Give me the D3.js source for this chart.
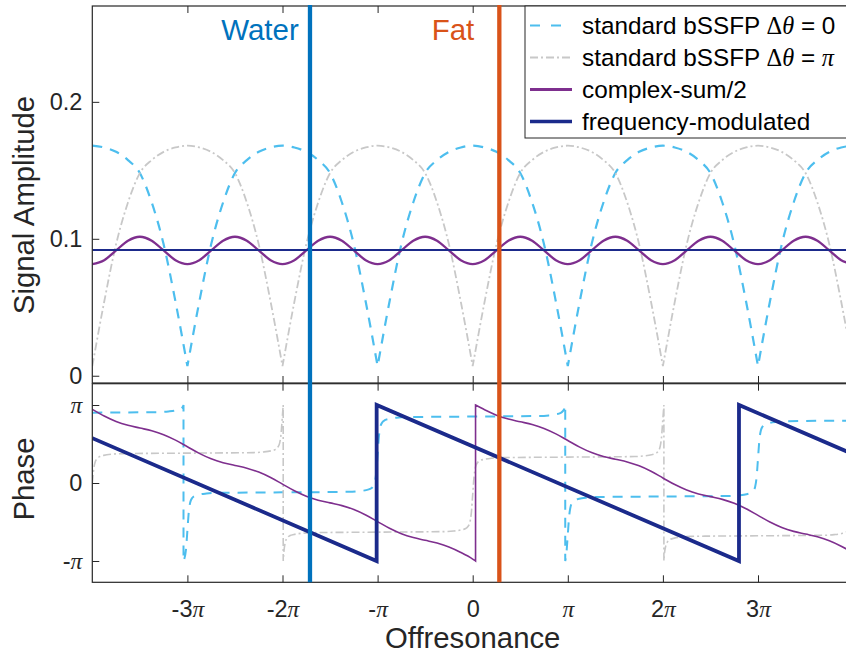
<!DOCTYPE html>
<html><head><meta charset="utf-8">
<script src="https://cdn.jsdelivr.net/npm/d3@7/dist/d3.min.js"></script>
<style>
html,body{margin:0;padding:0;background:#fff;overflow:hidden;}
svg{display:block;font-family:"Liberation Sans",Arial,Helvetica,sans-serif;}
</style></head><body>
<svg id="chart" width="846" height="655"></svg>
<script>
// ---------------- DATA (offresonance and phase in units of pi) ----------------
const offres = [-4,-3.875,-3.75,-3.625,-3.5,-3.375,-3.25,-3.125,-3,-2.875,-2.75,-2.625,-2.5,-2.375,-2.25,-2.125,
  -2,-1.875,-1.75,-1.625,-1.5,-1.375,-1.25,-1.125,-1,-0.875,-0.75,-0.625,-0.5,-0.375,-0.25,-0.125,
  0,0.125,0.25,0.375,0.5,0.625,0.75,0.875,1,1.125,1.25,1.375,1.5,1.625,1.75,1.875,
  2,2.125,2.25,2.375,2.5,2.625,2.75,2.875,3,3.125,3.25,3.375,3.5,3.625,3.75,3.875,4];

const ampBssfp0 = [0.168,0.1667,0.1635,0.1575,0.148,0.1265,0.096,0.054,0.007,0.054,0.096,0.1265,0.148,0.1575,0.1635,0.1667,
  0.168,0.1667,0.1635,0.1575,0.148,0.1265,0.096,0.054,0.007,0.054,0.096,0.1265,0.148,0.1575,0.1635,0.1667,
  0.168,0.1667,0.1635,0.1575,0.148,0.1265,0.096,0.054,0.007,0.054,0.096,0.1265,0.148,0.1575,0.1635,0.1667,
  0.168,0.1667,0.1635,0.1575,0.148,0.1265,0.096,0.054,0.007,0.054,0.096,0.1265,0.148,0.1575,0.1635,0.1667,0.168];

const ampBssfpPi = [0.007,0.054,0.096,0.1265,0.148,0.1575,0.1635,0.1667,0.168,0.1667,0.1635,0.1575,0.148,0.1265,0.096,0.054,
  0.007,0.054,0.096,0.1265,0.148,0.1575,0.1635,0.1667,0.168,0.1667,0.1635,0.1575,0.148,0.1265,0.096,0.054,
  0.007,0.054,0.096,0.1265,0.148,0.1575,0.1635,0.1667,0.168,0.1667,0.1635,0.1575,0.148,0.1265,0.096,0.054,
  0.007,0.054,0.096,0.1265,0.148,0.1575,0.1635,0.1667,0.168,0.1667,0.1635,0.1575,0.148,0.1265,0.096,0.054,0.007];

const ampComplexSum = [0.0815,0.0844,0.0915,0.0986,0.1015,0.0986,0.0915,0.0844,0.0815,0.0844,0.0915,0.0986,0.1015,0.0986,0.0915,0.0844,
  0.0815,0.0844,0.0915,0.0986,0.1015,0.0986,0.0915,0.0844,0.0815,0.0844,0.0915,0.0986,0.1015,0.0986,0.0915,0.0844,
  0.0815,0.0844,0.0915,0.0986,0.1015,0.0986,0.0915,0.0844,0.0815,0.0844,0.0915,0.0986,0.1015,0.0986,0.0915,0.0844,
  0.0815,0.0844,0.0915,0.0986,0.1015,0.0986,0.0915,0.0844,0.0815,0.0844,0.0915,0.0986,0.1015,0.0986,0.0915,0.0844,0.0815];

const ampFreqModOffres = [-4, 4];
const ampFreqMod = [0.0918, 0.0918];

const phaseBssfp0 = [[-4,0.902],[-3.3,0.909],[-3.2,0.917],[-3.12,0.931],[-3.08,0.946],[-3.05,0.975],[-3.041,1.0],[-3.041,-1.0],
  [-3.015,-0.854],[-3,-0.609],[-2.985,-0.365],[-2.97,-0.247],[-2.95,-0.193],[-2.92,-0.164],[-2.88,-0.149],[-2.8,-0.135],[-2.7,-0.127],[-2,-0.120],
  [-1.3,-0.113],[-1.2,-0.105],[-1.12,-0.091],[-1.08,-0.076],[-1.05,-0.047],[-1.03,0.006],[-1.015,0.123],[-1,0.366],[-0.985,0.609],
  [-0.97,0.726],[-0.95,0.779],[-0.92,0.808],[-0.88,0.823],[-0.8,0.837],[-0.7,0.845],[0,0.852],
  [0.7,0.859],[0.8,0.867],[0.88,0.881],[0.92,0.896],[0.95,0.925],[0.97,0.979],[0.973,1.0],[0.973,-1.0],[0.985,-0.904],[1,-0.661],
  [1.015,-0.417],[1.03,-0.300],[1.05,-0.246],[1.08,-0.217],[1.12,-0.202],[1.2,-0.188],[1.3,-0.180],[2,-0.173],
  [2.7,-0.166],[2.8,-0.158],[2.88,-0.144],[2.92,-0.129],[2.95,-0.100],[2.97,-0.047],[2.985,0.070],[3,0.314],[3.015,0.557],
  [3.03,0.674],[3.05,0.727],[3.08,0.756],[3.12,0.771],[3.2,0.785],[3.3,0.793],[4,0.800]];

const phaseBssfpPi = [[-4,0.0],[-3.985,0.18],[-3.97,0.27],[-3.95,0.311],[-3.92,0.340],[-3.88,0.354],[-3.8,0.369],[-3.7,0.376],[-3,0.383],
  [-2.3,0.390],[-2.2,0.398],[-2.12,0.413],[-2.08,0.427],[-2.05,0.457],[-2.03,0.511],[-2.015,0.630],[-2.0,0.877],[-1.9925,1.0],[-1.9925,-1.0],
  [-1.985,-0.877],[-1.97,-0.758],[-1.95,-0.704],[-1.92,-0.674],[-1.88,-0.660],[-1.8,-0.645],[-1.7,-0.637],[-1,-0.630],
  [-0.3,-0.623],[-0.2,-0.616],[-0.12,-0.601],[-0.08,-0.587],[-0.05,-0.558],[-0.03,-0.505],[-0.015,-0.390],[0,-0.149],[0.015,0.092],
  [0.03,0.207],[0.05,0.260],[0.08,0.289],[0.12,0.303],[0.2,0.318],[0.3,0.325],[1,0.332],
  [1.7,0.339],[1.8,0.347],[1.88,0.362],[1.92,0.377],[1.95,0.406],[1.97,0.461],[1.985,0.580],[2.0,0.828],[2.0105,1.0],[2.0105,-1.0],
  [2.015,-0.925],[2.03,-0.806],[2.05,-0.751],[2.08,-0.722],[2.12,-0.707],[2.2,-0.692],[2.3,-0.684],[3,-0.677],
  [3.7,-0.670],[3.8,-0.662],[3.88,-0.648],[3.92,-0.634],[3.95,-0.605],[3.97,-0.552],[3.985,-0.437],[4,-0.197]];

const phaseComplexSum = [[-4,0.945],[-3.875,0.860],[-3.75,0.790],[-3.625,0.740],[-3.5,0.705],[-3.375,0.670],[-3.25,0.620],[-3.125,0.550],
  [-3,0.465],[-2.875,0.380],[-2.75,0.310],[-2.625,0.260],[-2.5,0.225],[-2.375,0.190],[-2.25,0.140],[-2.125,0.070],
  [-2,-0.015],[-1.875,-0.100],[-1.75,-0.170],[-1.625,-0.220],[-1.5,-0.255],[-1.375,-0.290],[-1.25,-0.340],[-1.125,-0.410],
  [-1,-0.495],[-0.875,-0.580],[-0.75,-0.650],[-0.625,-0.700],[-0.5,-0.735],[-0.375,-0.770],[-0.25,-0.820],[-0.125,-0.890],
  [0,-0.975],[0.03,-1.0],[0.03,1.0],[0.125,0.940],[0.25,0.870],[0.375,0.820],[0.5,0.785],[0.625,0.750],[0.75,0.700],[0.875,0.630],
  [1,0.545],[1.125,0.460],[1.25,0.390],[1.375,0.340],[1.5,0.305],[1.625,0.270],[1.75,0.220],[1.875,0.150],
  [2,0.065],[2.125,-0.020],[2.25,-0.090],[2.375,-0.140],[2.5,-0.175],[2.625,-0.210],[2.75,-0.260],[2.875,-0.330],
  [3,-0.415],[3.125,-0.500],[3.25,-0.570],[3.375,-0.620],[3.5,-0.655],[3.625,-0.690],[3.75,-0.740],[3.875,-0.810],[4,-0.895]];

const phaseFreqMod = [[-4,0.575],[-1.01,-1.0],[-1.01,1.0],[2.8,-1.0],[2.8,1.0],[4,0.37]];

const waterOffres = -1.711;
const fatOffres = 0.28;
const markerLabels = ["Water", "Fat"];
const markerLabelOffres = [-2.237, -0.207];
const markerLabelAmp = 0.245;

const xTicks = [-3,-2,-1,0,1,2,3];
const xTickLabels = ["-3π","-2π","-π","0","π","2π","3π"];
const ampTicks = [0, 0.1, 0.2];
const ampTickLabels = ["0","0.1","0.2"];
const phaseTicks = [-1, 0, 1];
const phaseTickLabels = ["-π","0","π"];

const legendLabels = ["standard bSSFP Δθ = 0","standard bSSFP Δθ = π","complex-sum/2","frequency-modulated"];
const axisLabels = {x: "Offresonance", yTop: "Signal Amplitude", yBottom: "Phase"};

const xLimits = [-4, 4];
const ampLimits = [-0.0053, 0.27];
const phaseLimits = [-1.2732, 1.2732];

// ---------------- STYLE ----------------
const axisColor = "#262626";
const cCyan = "#4DBEEE", cGray = "#c8c8c8", cPurple = "#7E2F8E", cNavy = "#1b2a8b";
const cWater = "#0072BD", cFat = "#D95319";
const tickFont = 23.5, labelFont = 29.3, legendFont = 24.3;

// ---------------- SCALES ----------------
const L = 92.3, R = 853.1, T = 6, MID = 383, MIDB = 383.7, B = 582.3;
const x = d3.scaleLinear().domain(xLimits).range([L, R]);
const yA = d3.scaleLinear().domain(ampLimits).range([MID, T]);
const yP = d3.scaleLinear().domain(phaseLimits).range([B, MIDB]);

const svg = d3.select("#chart");
const defs = svg.append("defs");
defs.append("clipPath").attr("id","clipTop").append("rect").attr("x",L).attr("y",T).attr("width",R-L).attr("height",MID-T);
defs.append("clipPath").attr("id","clipBot").append("rect").attr("x",L).attr("y",MIDB).attr("width",R-L).attr("height",B-MIDB);

// helpers
function splitAtMinima(pts){
  const segs=[]; let cur=[pts[0]];
  for(let i=1;i<pts.length;i++){
    cur.push(pts[i]);
    if(i<pts.length-1 && pts[i][1]<pts[i-1][1] && pts[i][1]<pts[i+1][1]){ segs.push(cur); cur=[pts[i]]; }
  }
  segs.push(cur); return segs;
}
function splitAtWraps(pts){
  const segs=[]; let cur=[pts[0]];
  for(let i=1;i<pts.length;i++){
    if(pts[i][0]===pts[i-1][0]){ segs.push(cur); cur=[pts[i]]; } else cur.push(pts[i]);
  }
  segs.push(cur); return segs;
}
function pathFrom(segs, ys, curve){
  const gen = d3.line().x(d=>x(d[0])).y(d=>ys(d[1])).curve(curve);
  return segs.map((s,i)=>{ const p = gen(s); return i===0 ? p : "L"+p.slice(1); }).join("");
}

// ---------------- TOP PANEL ----------------
const gTop = svg.append("g").attr("clip-path","url(#clipTop)");
const zipA = arr => offres.map((t,i)=>[t, arr[i]]);
gTop.append("path").attr("d", pathFrom(splitAtMinima(zipA(ampBssfp0)), yA, d3.curveMonotoneX))
  .attr("fill","none").attr("stroke",cCyan).attr("stroke-width",2.2).attr("stroke-dasharray","10,8");
gTop.append("path").attr("d", pathFrom(splitAtMinima(zipA(ampBssfpPi)), yA, d3.curveMonotoneX))
  .attr("fill","none").attr("stroke",cGray).attr("stroke-width",1.8).attr("stroke-dasharray","8,3,2,3");
gTop.append("path").attr("d", pathFrom([zipA(ampComplexSum)], yA, d3.curveMonotoneX))
  .attr("fill","none").attr("stroke",cPurple).attr("stroke-width",2.3);
gTop.append("path").attr("d", pathFrom([ampFreqModOffres.map((t,i)=>[t,ampFreqMod[i]])], yA, d3.curveLinear))
  .attr("fill","none").attr("stroke",cNavy).attr("stroke-width",2);

// ---------------- BOTTOM PANEL ----------------
const gBot = svg.append("g").attr("clip-path","url(#clipBot)");
gBot.append("path").attr("d", pathFrom(splitAtWraps(phaseBssfp0), yP, d3.curveMonotoneX))
  .attr("fill","none").attr("stroke",cCyan).attr("stroke-width",2).attr("stroke-dasharray","10,8");
gBot.append("path").attr("d", pathFrom(splitAtWraps(phaseBssfpPi), yP, d3.curveMonotoneX))
  .attr("fill","none").attr("stroke",cGray).attr("stroke-width",1.6).attr("stroke-dasharray","8,3,2,3");
gBot.append("path").attr("d", pathFrom(splitAtWraps(phaseComplexSum), yP, d3.curveMonotoneX))
  .attr("fill","none").attr("stroke",cPurple).attr("stroke-width",1.6);
gBot.append("path").attr("d", pathFrom(splitAtWraps(phaseFreqMod), yP, d3.curveLinear))
  .attr("fill","none").attr("stroke",cNavy).attr("stroke-width",3.8).attr("stroke-linejoin","miter");

// ---------------- AXES ----------------
function labelWithPi(sel, str){
  sel.text(null);
  for(const ch of str){
    if(ch==="π"||ch==="θ"||ch==="Δ"){
      sel.append("tspan").attr("font-family",'"Liberation Serif","Times New Roman",serif')
        .attr("font-style", ch==="Δ"?"normal":"italic").text(ch);
    } else {
      const last = sel.node().lastChild;
      if(last && last.nodeType===1 && last.getAttribute("data-plain")) last.textContent += ch;
      else sel.append("tspan").attr("data-plain","1").text(ch);
    }
  }
}
function styleAxis(g){
  g.select(".domain").remove();
  g.selectAll(".tick line").attr("stroke",axisColor).attr("stroke-width",1);
  g.selectAll(".tick text").attr("fill",axisColor).attr("font-size",tickFont)
    .attr("font-family",'"Liberation Sans",Arial,Helvetica,sans-serif');
}
const tick = 7;
// top panel ticks
svg.append("g").attr("transform",`translate(0,${T})`).call(d3.axisTop(x).tickValues(xTicks).tickSizeInner(-tick).tickSizeOuter(0).tickFormat("")).call(styleAxis);
svg.append("g").attr("transform",`translate(0,${MID})`).call(d3.axisBottom(x).tickValues(xTicks).tickSizeInner(-tick).tickSizeOuter(0).tickFormat("")).call(styleAxis);
svg.append("g").attr("transform",`translate(${L},0)`).call(d3.axisLeft(yA).tickValues(ampTicks).tickSizeInner(-tick).tickSizeOuter(0).tickPadding(10)
  .tickFormat((d,i)=>ampTickLabels[i])).call(styleAxis);
svg.append("g").attr("transform",`translate(${R},0)`).call(d3.axisRight(yA).tickValues(ampTicks).tickSizeInner(-tick).tickSizeOuter(0).tickFormat("")).call(styleAxis);
// bottom panel ticks
svg.append("g").attr("transform",`translate(0,${MIDB})`).call(d3.axisTop(x).tickValues(xTicks).tickSizeInner(-tick).tickSizeOuter(0).tickFormat("")).call(styleAxis);
const gxb = svg.append("g").attr("transform",`translate(0,${B})`).call(d3.axisBottom(x).tickValues(xTicks).tickSizeInner(-tick).tickSizeOuter(0).tickPadding(18.5)
  .tickFormat((d,i)=>xTickLabels[i])).call(styleAxis);
gxb.selectAll(".tick text").each(function(d,i){ labelWithPi(d3.select(this), xTickLabels[i]); });
const gyb = svg.append("g").attr("transform",`translate(${L},0)`).call(d3.axisLeft(yP).tickValues(phaseTicks).tickSizeInner(-tick).tickSizeOuter(0).tickPadding(10)
  .tickFormat((d,i)=>phaseTickLabels[i])).call(styleAxis);
gyb.selectAll(".tick text").each(function(d,i){ labelWithPi(d3.select(this), phaseTickLabels[i]); });
svg.append("g").attr("transform",`translate(${R},0)`).call(d3.axisRight(yP).tickValues(phaseTicks).tickSizeInner(-tick).tickSizeOuter(0).tickFormat("")).call(styleAxis);

// boxes
svg.append("rect").attr("x",L).attr("y",T).attr("width",R-L).attr("height",MID-T).attr("fill","none").attr("stroke",axisColor).attr("stroke-width",1.2);
svg.append("rect").attr("x",L).attr("y",MIDB).attr("width",R-L).attr("height",B-MIDB).attr("fill","none").attr("stroke",axisColor).attr("stroke-width",1.2);

// axis labels
svg.append("text").attr("transform",`translate(33.5,205) rotate(-90)`).attr("text-anchor","middle")
  .attr("font-size",labelFont).attr("fill",axisColor).text(axisLabels.yTop);
svg.append("text").attr("transform",`translate(33.5,479) rotate(-90)`).attr("text-anchor","middle")
  .attr("font-size",labelFont).attr("fill",axisColor).text(axisLabels.yBottom);
svg.append("text").attr("x",x(0)).attr("y",648).attr("text-anchor","middle")
  .attr("font-size",labelFont).attr("fill",axisColor).text(axisLabels.x);

// ---------------- WATER / FAT MARKERS ----------------
[[waterOffres,cWater],[fatOffres,cFat]].forEach(([t,c])=>{
  svg.append("line").attr("x1",x(t)).attr("x2",x(t)).attr("y1",T-1).attr("y2",B)
    .attr("stroke",c).attr("stroke-width",4.3);
});
markerLabels.forEach((lab,i)=>{
  svg.append("text").attr("x",x(markerLabelOffres[i])).attr("y",yA(markerLabelAmp)).attr("text-anchor","middle")
    .attr("font-size",29.5).attr("fill",i===0?cWater:cFat).text(lab);
});

// ---------------- LEGEND ----------------
const lg = svg.append("g");
lg.append("rect").attr("x",525).attr("y",T).attr("width",400).attr("height",132)
  .attr("fill","#fff").attr("stroke",axisColor).attr("stroke-width",1);
const legStyles = [
  {c:cCyan,w:2.2,dash:"10,11"},
  {c:cGray,w:1.8,dash:"8,3,2,3"},
  {c:cPurple,w:3,dash:null},
  {c:cNavy,w:3.5,dash:null}
];
const legY = [25.5, 57.5, 89.5, 121.5];
legendLabels.forEach((lab,i)=>{
  const s = legStyles[i];
  const ln = lg.append("line").attr("x1",530).attr("x2",572).attr("y1",legY[i]).attr("y2",legY[i])
    .attr("stroke",s.c).attr("stroke-width",s.w);
  if(s.dash) ln.attr("stroke-dasharray",s.dash);
  const t = lg.append("text").attr("x",582).attr("y",legY[i]).attr("dy","0.36em")
    .attr("font-size",legendFont).attr("fill","#000");
  labelWithPi(t, lab);
});
</script>
</body></html>
